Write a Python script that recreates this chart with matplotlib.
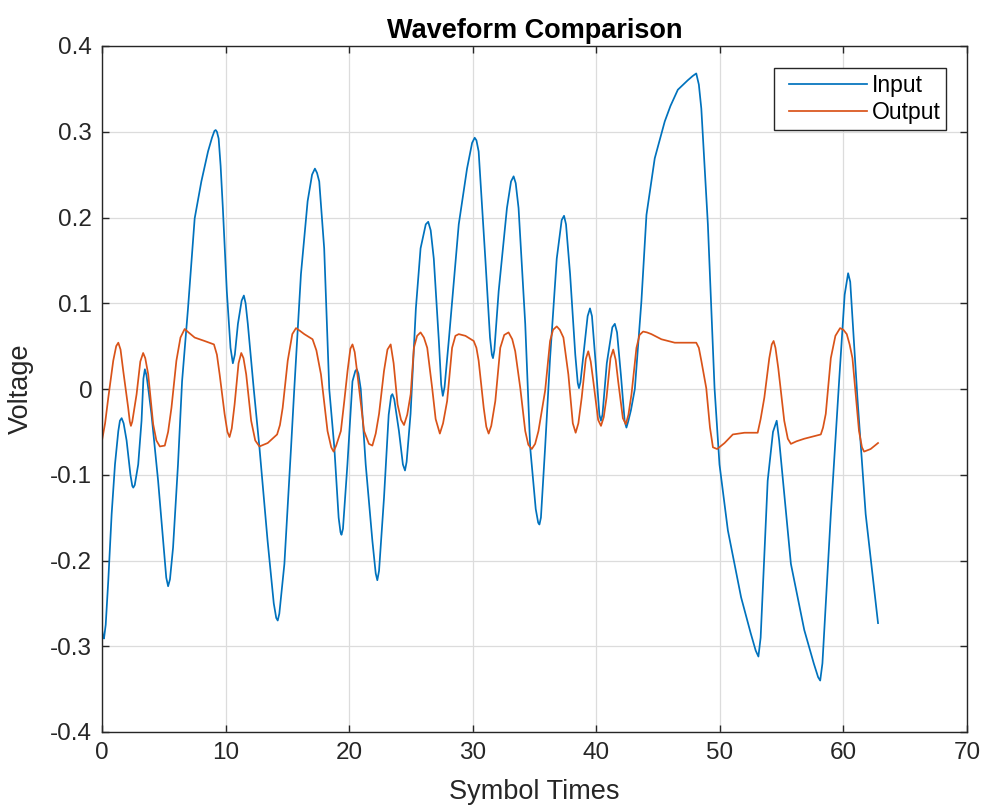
import matplotlib
matplotlib.use('Agg')
import matplotlib.pyplot as plt
from matplotlib.legend_handler import HandlerLine2D

# values (symbol time, voltage)
input_t = [0.0, 0.08, 0.16, 0.3, 0.51, 0.78, 1.05, 1.32, 1.45, 1.59, 1.75, 1.99, 2.3, 2.45,
           2.53, 2.65, 2.93, 3.2, 3.35, 3.47, 3.6, 3.74, 4.0, 4.54, 4.95, 5.2, 5.35, 5.5,
           5.75, 6.15, 6.48, 6.96, 7.5, 8.04, 8.58, 8.9, 9.1, 9.2, 9.3, 9.44, 9.6, 9.78,
           10.1, 10.4, 10.59, 10.75, 11.0, 11.3, 11.48, 11.62, 11.8, 12.28, 12.74, 13.4,
           13.9, 14.1, 14.22, 14.35, 14.76, 15.3, 15.56, 16.1, 16.64, 17.0, 17.23, 17.4,
           17.58, 17.98, 18.39, 18.8, 19.15, 19.3, 19.38, 19.5, 19.86, 20.27, 20.5, 20.62,
           20.75, 20.94, 21.34, 21.88, 22.15, 22.28, 22.42, 22.82, 23.2, 23.4, 23.5, 23.65,
           24.03, 24.35, 24.52, 24.65, 24.97, 25.4, 25.78, 26.2, 26.4, 26.6, 26.85, 27.26,
           27.45, 27.58, 27.72, 28.06, 28.87, 29.54, 29.95, 30.16, 30.3, 30.48, 31.02, 31.4,
           31.55, 31.64, 31.75, 32.1, 32.77, 33.1, 33.31, 33.48, 33.71, 34.25, 34.65, 35.1,
           35.3, 35.4, 35.52, 35.86, 36.26, 36.8, 37.2, 37.39, 37.55, 37.88, 38.3, 38.5,
           38.6, 38.72, 39.0, 39.3, 39.49, 39.65, 39.95, 40.25, 40.38, 40.5, 40.85, 41.3,
           41.5, 41.68, 42.0, 42.3, 42.44, 42.58, 42.8, 43.12, 43.65, 44.06, 44.73, 45.54,
           46.0, 46.6, 47.4, 47.8, 48.09, 48.3, 48.5, 49.03, 49.57, 49.97, 50.65, 51.72,
           52.5, 52.9, 53.12, 53.3, 53.87, 54.3, 54.6, 54.8, 55.75, 56.83, 57.6, 57.95,
           58.12, 58.3, 58.98, 59.65, 60.1, 60.38, 60.55, 61.13, 61.8, 62.8]
input_v = [-0.280, -0.289, -0.291, -0.275, -0.223, -0.146, -0.088, -0.049, -0.037, -0.034,
           -0.040, -0.060, -0.100, -0.113, -0.115, -0.112, -0.088, -0.037, 0.012, 0.023,
           0.016, 0.001, -0.029, -0.107, -0.177, -0.220, -0.230, -0.222, -0.185, -0.088,
           0.009, 0.094, 0.199, 0.242, 0.277, 0.293, 0.301, 0.302, 0.300, 0.292, 0.260,
           0.211, 0.114, 0.048, 0.030, 0.040, 0.076, 0.103, 0.109, 0.100, 0.076, 0.0,
           -0.068, -0.177, -0.250, -0.267, -0.270, -0.262, -0.204, -0.068, 0.0, 0.134,
           0.219, 0.250, 0.257, 0.252, 0.242, 0.164, 0.0, -0.068, -0.150, -0.167, -0.170,
           -0.163, -0.088, 0.009, 0.021, 0.023, 0.018, 0.0, -0.088, -0.177, -0.215, -0.223,
           -0.212, -0.127, -0.030, -0.008, -0.006, -0.012, -0.049, -0.088, -0.095, -0.085,
           -0.029, 0.094, 0.164, 0.192, 0.195, 0.185, 0.152, 0.056, 0.005, -0.008, 0.002,
           0.056, 0.192, 0.257, 0.287, 0.293, 0.290, 0.277, 0.152, 0.060, 0.040, 0.036,
           0.045, 0.114, 0.211, 0.242, 0.248, 0.240, 0.211, 0.076, -0.068, -0.140, -0.156,
           -0.158, -0.150, -0.068, 0.036, 0.152, 0.197, 0.202, 0.192, 0.134, 0.040, 0.007,
           0.001, 0.008, 0.045, 0.085, 0.094, 0.085, 0.030, -0.030, -0.037, -0.030, 0.030,
           0.072, 0.076, 0.066, 0.015, -0.038, -0.045, -0.038, -0.025, 0.0, 0.102, 0.203,
           0.269, 0.312, 0.330, 0.349, 0.360, 0.365, 0.368, 0.355, 0.327, 0.192, 0.001,
           -0.088, -0.165, -0.243, -0.285, -0.305, -0.312, -0.290, -0.107, -0.050, -0.037,
           -0.060, -0.204, -0.281, -0.320, -0.336, -0.340, -0.320, -0.146, 0.009, 0.110,
           0.135, 0.125, -0.010, -0.146, -0.273]

output_t = [0.0, 0.25, 0.51, 0.91, 1.15, 1.32, 1.5, 1.72, 2.12, 2.25, 2.34, 2.45, 2.8, 3.1,
            3.33, 3.5, 3.74, 4.14, 4.4, 4.68, 5.08, 5.35, 5.62, 6.02, 6.35, 6.69, 7.0, 7.5,
            8.3, 9.06, 9.3, 9.52, 9.92, 10.15, 10.32, 10.5, 10.73, 11.05, 11.27, 11.45, 11.67,
            12.07, 12.4, 12.74, 13.41, 14.17, 14.4, 14.62, 15.03, 15.4, 15.7, 16.0, 16.37,
            17.04, 17.35, 17.72, 18.25, 18.55, 18.74, 18.95, 19.33, 19.6, 19.87, 20.1, 20.27,
            20.45, 20.67, 21.21, 21.6, 21.88, 22.15, 22.42, 22.82, 23.1, 23.36, 23.6, 23.92,
            24.2, 24.44, 24.7, 24.98, 25.24, 25.5, 25.78, 26.05, 26.32, 26.72, 27.0, 27.34,
            27.6, 27.93, 28.33, 28.6, 28.87, 29.41, 30.08, 30.3, 30.48, 30.89, 31.1, 31.29,
            31.5, 31.83, 32.23, 32.55, 32.9, 33.2, 33.44, 33.85, 34.25, 34.5, 34.78, 35.05,
            35.32, 35.86, 36.26, 36.5, 36.8, 37.05, 37.34, 37.74, 38.1, 38.33, 38.55, 38.82,
            39.15, 39.35, 39.55, 39.76, 40.15, 40.38, 40.6, 40.83, 41.15, 41.37, 41.57, 41.77,
            42.15, 42.39, 42.6, 42.85, 43.25, 43.5, 43.79, 44.1, 44.46, 45.27, 46.35, 47.2,
            48.09, 48.3, 48.5, 48.9, 49.2, 49.44, 49.78, 50.38, 51.05, 51.99, 53.06, 53.3,
            53.6, 54.0, 54.2, 54.35, 54.5, 54.73, 55.21, 55.5, 55.75, 56.2, 56.83, 58.17,
            58.35, 58.57, 58.98, 59.35, 59.73, 60.0, 60.27, 60.5, 60.73, 61.26, 61.5, 61.67,
            62.2, 62.8]
output_v = [-0.060, -0.040, -0.010, 0.033, 0.050, 0.054, 0.046, 0.021, -0.022, -0.038,
            -0.043, -0.038, -0.006, 0.032, 0.042, 0.036, 0.017, -0.041, -0.060, -0.067,
            -0.066, -0.050, -0.022, 0.033, 0.060, 0.070, 0.066, 0.060, 0.056, 0.052, 0.040,
            0.017, -0.029, -0.050, -0.056, -0.046, -0.018, 0.030, 0.042, 0.036, 0.017,
            -0.037, -0.060, -0.067, -0.063, -0.053, -0.042, -0.022, 0.033, 0.064, 0.071,
            0.068, 0.064, 0.058, 0.045, 0.017, -0.049, -0.068, -0.073, -0.066, -0.049,
            -0.015, 0.021, 0.047, 0.052, 0.043, 0.017, -0.049, -0.064, -0.066, -0.052,
            -0.029, 0.021, 0.046, 0.052, 0.030, -0.018, -0.036, -0.042, -0.030, -0.006,
            0.048, 0.062, 0.066, 0.060, 0.048, 0.001, -0.035, -0.052, -0.040, -0.014, 0.048,
            0.062, 0.064, 0.062, 0.056, 0.048, 0.033, -0.022, -0.044, -0.052, -0.043, -0.014,
            0.048, 0.063, 0.066, 0.058, 0.044, 0.001, -0.049, -0.065, -0.070, -0.064, -0.049,
            -0.002, 0.056, 0.069, 0.073, 0.069, 0.060, 0.017, -0.040, -0.051, -0.040, -0.010,
            0.035, 0.044, 0.032, 0.009, -0.036, -0.043, -0.033, -0.010, 0.036, 0.046, 0.034,
            0.009, -0.034, -0.041, -0.030, -0.006, 0.048, 0.063, 0.067, 0.066, 0.064, 0.058,
            0.054, 0.054, 0.054, 0.048, 0.033, 0.001, -0.045, -0.068, -0.070, -0.063, -0.053,
            -0.051, -0.051, -0.035, -0.010, 0.036, 0.052, 0.056, 0.048, 0.024, -0.037,
            -0.058, -0.064, -0.061, -0.058, -0.053, -0.045, -0.029, 0.036, 0.062, 0.071,
            0.069, 0.064, 0.052, 0.036, -0.049, -0.068, -0.073, -0.070, -0.063]

xticks = [0, 10, 20, 30, 40, 50, 60, 70]
yticks = [-0.4, -0.3, -0.2, -0.1, 0, 0.1, 0.2, 0.3, 0.4]
ytick_labels = ['-0.4', '-0.3', '-0.2', '-0.1', '0', '0.1', '0.2', '0.3', '0.4']

plt.rcParams['font.family'] = ['Liberation Sans', 'DejaVu Sans']
plt.rcParams['axes.unicode_minus'] = False

fig = plt.figure(figsize=(9.87, 8.11), dpi=100)
ax = fig.add_axes([102/987, 1 - 732/811, 865/987, 686/811])

ax.plot(input_t, input_v, color='#0072BD', lw=1.25, label='Input')
ax.plot(output_t, output_v, color='#D95319', lw=1.25, label='Output')

ax.set_xlim(0, 70)
ax.set_ylim(-0.4, 0.4)
ax.set_xticks(xticks)
ax.set_xticklabels([str(t) for t in xticks])
ax.set_yticks(yticks)
ax.set_yticklabels(ytick_labels)

ax.grid(True, color='#dcdcdc', lw=0.9)
ax.set_axisbelow(True)
for s in ax.spines.values():
    s.set_color('#262626')
    s.set_linewidth(1.0)
ax.tick_params(direction='in', length=5, width=1.0, colors='#262626',
               labelsize=17.5, top=True, right=True, pad=7)

ax.set_title('Waveform Comparison', fontsize=19.5, fontweight='bold', pad=6)
ax.set_xlabel('Symbol Times', fontsize=19.5, color='#262626')
ax.set_ylabel('Voltage', fontsize=19.5, color='#262626')
ax.xaxis.set_label_coords(0.5, -0.068)
ax.yaxis.set_label_coords(-0.079, 0.5)

leg = ax.legend(loc='upper right', bbox_to_anchor=(0.9757, 0.968), borderaxespad=0,
                fontsize=16.5, handlelength=3.8, handletextpad=0.2, borderpad=0.25,
                labelspacing=0.18, fancybox=False, framealpha=1,
                handler_map={plt.Line2D: HandlerLine2D(xpad=0.4)})
leg.get_frame().set_edgecolor('#262626')
leg.get_frame().set_linewidth(1.0)

fig.savefig('out.png', dpi=100)
